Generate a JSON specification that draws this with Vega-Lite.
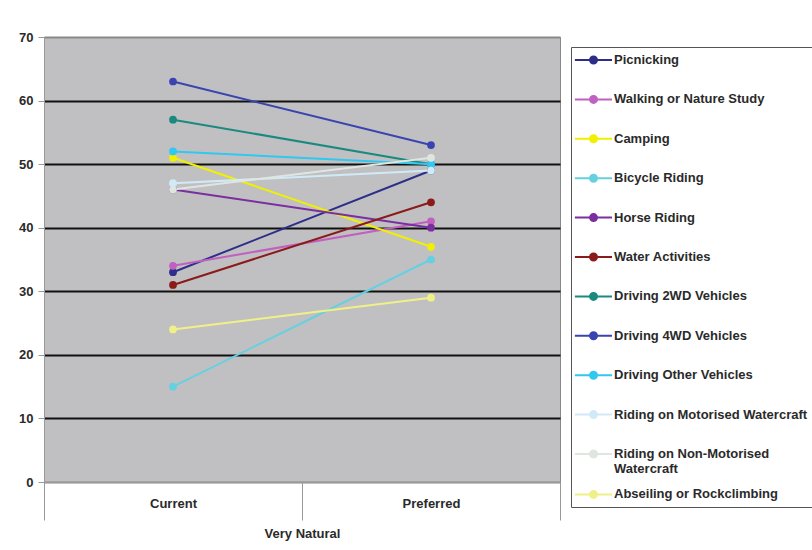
{
  "$schema": "https://vega.github.io/schema/vega-lite/v6.json",
  "autosize": "none",
  "width": 516,
  "height": 445,
  "padding": {"left": 44, "top": 37, "right": 252, "bottom": 68},
  "background": "#ffffff",
  "data": {
    "values": [
      {"activity": "Picnicking", "period": "Current", "value": 33},
      {"activity": "Picnicking", "period": "Preferred", "value": 49},
      {"activity": "Walking or Nature Study", "period": "Current", "value": 34},
      {"activity": "Walking or Nature Study", "period": "Preferred", "value": 41},
      {"activity": "Camping", "period": "Current", "value": 51},
      {"activity": "Camping", "period": "Preferred", "value": 37},
      {"activity": "Bicycle Riding", "period": "Current", "value": 15},
      {"activity": "Bicycle Riding", "period": "Preferred", "value": 35},
      {"activity": "Horse Riding", "period": "Current", "value": 46},
      {"activity": "Horse Riding", "period": "Preferred", "value": 40},
      {"activity": "Water Activities", "period": "Current", "value": 31},
      {"activity": "Water Activities", "period": "Preferred", "value": 44},
      {"activity": "Driving 2WD Vehicles", "period": "Current", "value": 57},
      {"activity": "Driving 2WD Vehicles", "period": "Preferred", "value": 50},
      {"activity": "Driving 4WD Vehicles", "period": "Current", "value": 63},
      {"activity": "Driving 4WD Vehicles", "period": "Preferred", "value": 53},
      {"activity": "Driving Other Vehicles", "period": "Current", "value": 52},
      {"activity": "Driving Other Vehicles", "period": "Preferred", "value": 50},
      {"activity": "Riding on Motorised Watercraft", "period": "Current", "value": 47},
      {"activity": "Riding on Motorised Watercraft", "period": "Preferred", "value": 49},
      {"activity": "Riding on Non-Motorised Watercraft", "period": "Current", "value": 46},
      {"activity": "Riding on Non-Motorised Watercraft", "period": "Preferred", "value": 51},
      {"activity": "Abseiling or Rockclimbing", "period": "Current", "value": 24},
      {"activity": "Abseiling or Rockclimbing", "period": "Preferred", "value": 29}
    ]
  },
  "encoding": {
    "x": {
      "field": "period",
      "type": "nominal",
      "bandPosition": 0.5,
      "scale": {"type": "band", "paddingInner": 0, "paddingOuter": 0},
      "axis": {
        "title": "Very Natural",
        "labelAngle": 0,
        "tickBand": "extent",
        "tickSize": 38,
        "tickColor": "#999999",
        "tickWidth": 1,
        "domainColor": "#999999",
        "labelPadding": -17,
        "labelBaseline": "middle",
        "titlePadding": 7,
        "grid": false
      }
    },
    "y": {
      "field": "value",
      "type": "quantitative",
      "scale": {"domain": [0, 70], "nice": false},
      "axis": {
        "title": null,
        "values": [0, 10, 20, 30, 40, 50, 60, 70],
        "grid": true,
        "gridWidth": 2,
        "gridColor": {"condition": {"test": "datum.value == 70 || datum.value == 0", "value": "#888888"}, "value": "#111111"},
        "tickSize": 6,
        "tickColor": "#999999",
        "domainColor": "#999999",
        "labelPadding": 5
      }
    },
    "color": {
      "field": "activity",
      "type": "nominal",
      "scale": {
        "domain": ["Picnicking", "Walking or Nature Study", "Camping", "Bicycle Riding", "Horse Riding", "Water Activities", "Driving 2WD Vehicles", "Driving 4WD Vehicles", "Driving Other Vehicles", "Riding on Motorised Watercraft", "Riding on Non-Motorised Watercraft", "Abseiling or Rockclimbing"],
        "range": ["#2e2e8a", "#c060c0", "#f0f000", "#66d0e0", "#7a2ea0", "#8b1a1a", "#1a8a80", "#3a44b0", "#30c8f0", "#d0eaf8", "#dfe6df", "#f0f088"]
      },
      "legend": {
        "title": null,
        "orient": "none",
        "legendX": 527,
        "legendY": 10,
        "labelExpr": "datum.label == 'Riding on Non-Motorised Watercraft' ? ['Watercraft', 'Riding on Non-Motorised'] : datum.label",
        "encode": {
          "labels": {
            "update": {
              "dy": {"signal": "datum.value == 'Riding on Non-Motorised Watercraft' ? 15 : 0"},
              "lineHeight": {"signal": "datum.value == 'Riding on Non-Motorised Watercraft' ? -15 : 15"}
            }
          }
        }
      }
    }
  },
  "layer": [
    {"mark": {"type": "line", "strokeWidth": 2}},
    {"mark": {"type": "point", "filled": true, "size": 60, "opacity": 1}}
  ],
  "config": {
    "font": "Liberation Sans",
    "view": {"fill": "#c0c0c2", "stroke": "#888888", "strokeWidth": 1},
    "axis": {
      "labelFont": "Liberation Sans",
      "labelFontSize": 13,
      "labelFontWeight": "bold",
      "labelColor": "#2a2a2a",
      "titleFont": "Liberation Sans",
      "titleFontSize": 13,
      "titleFontWeight": "bold",
      "titleColor": "#2a2a2a"
    },
    "legend": {
      "strokeColor": "#555555",
      "fillColor": "#ffffff",
      "padding": 5,
      "rowPadding": 23.4,
      "symbolType": "M-1.3,0H4M0.86,0A0.5,0.5,0,1,1,1.86,0A0.5,0.5,0,1,1,0.86,0Z",
      "symbolSize": 196,
      "symbolStrokeWidth": 2,
      "labelOffset": 22,
      "labelFont": "Liberation Sans",
      "labelFontSize": 13,
      "labelFontWeight": "bold",
      "labelColor": "#2a2a2a",
      "labelLimit": 400
    }
  }
}
